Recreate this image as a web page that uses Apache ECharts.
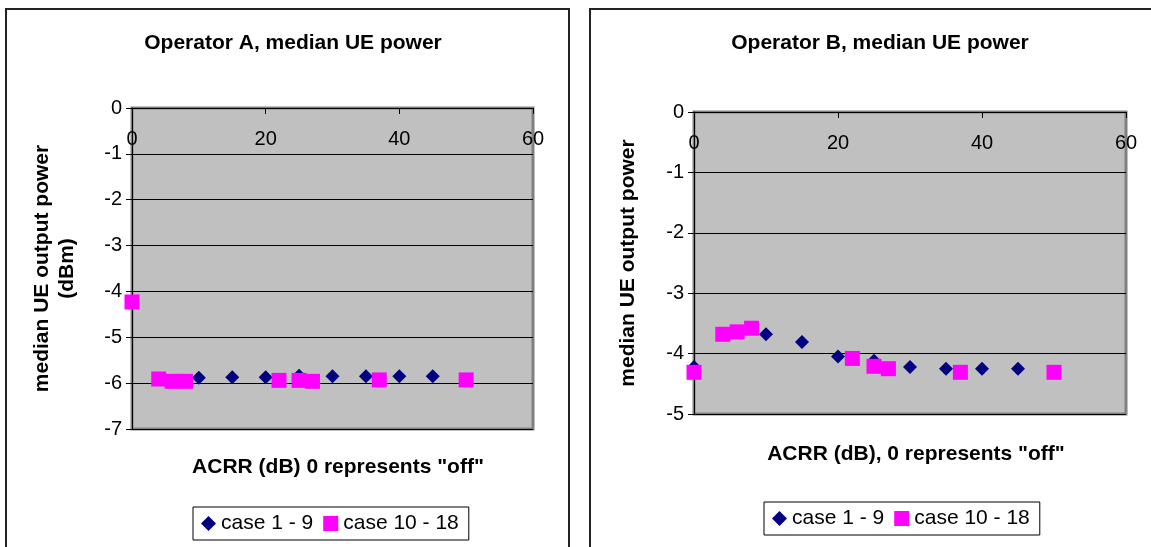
<!DOCTYPE html>
<html>
<head>
<meta charset="utf-8">
<script src="https://cdn.jsdelivr.net/npm/echarts@6/dist/echarts.min.js"></script>
<style>
  html, body { margin: 0; padding: 0; background: #fff; }
  #main { width: 1151px; height: 547px; }
</style>
</head>
<body>
<div id="main"></div>
<script>
// 数据：ACRR (dB) 与 median UE output power (dBm)
var seriesNames = ['case 1 - 9', 'case 10 - 18'];
var acrrCase1 = [0, 10, 15, 20, 25, 30, 35, 40, 45];
var acrrCase10 = [0, 4, 6, 8, 22, 25, 27, 37, 50];
var opA_case1 = [-4.23, -5.88, -5.87, -5.87, -5.84, -5.85, -5.85, -5.85, -5.85];
var opA_case10 = [-4.23, -5.91, -5.96, -5.96, -5.94, -5.94, -5.96, -5.93, -5.93];
var opB_case1 = [-4.22, -3.68, -3.81, -4.05, -4.12, -4.22, -4.25, -4.25, -4.25];
var opB_case10 = [-4.31, -3.68, -3.64, -3.58, -4.08, -4.21, -4.25, -4.31, -4.31];
var xTicks = [0, 20, 40, 60];

function pairs(xs, ys) {
    return xs.map(function (x, i) { return [x, ys[i]]; });
}

var FONT = '"Liberation Sans", Arial, sans-serif';
var myChart = echarts.init(document.getElementById('main'));

function xAx(gi) {
    return {
        type: 'value', gridIndex: gi, position: 'top',
        min: xTicks[0], max: xTicks[xTicks.length - 1], interval: 20,
        axisLine: { onZero: false, lineStyle: { color: '#000', width: 1 } },
        axisTick: { inside: true, length: 6, lineStyle: { color: '#000' } },
        axisLabel: { inside: true, margin: 21, color: '#000', fontSize: 20, fontFamily: FONT },
        splitLine: { show: false }
    };
}
function yAx(gi, min, name, gap) {
    return {
        type: 'value', gridIndex: gi, min: min, max: 0, interval: 1,
        name: name, nameLocation: 'middle', nameGap: gap, nameRotate: 90,
        nameTextStyle: { color: '#000', fontSize: 21, fontWeight: 'bold', fontFamily: FONT, lineHeight: 25 },
        axisLine: { show: true, lineStyle: { color: '#000', width: 1 } },
        axisTick: { show: true, length: 6, lineStyle: { color: '#000' } },
        axisLabel: { margin: 10, color: '#000', fontSize: 20, fontFamily: FONT },
        splitLine: { show: true, lineStyle: { color: '#000', width: 1 } }
    };
}
function legendAt(left, top) {
    return {
        left: left, top: top, orient: 'horizontal',
        data: [{ name: seriesNames[0], icon: 'diamond' }, { name: seriesNames[1], icon: 'rect' }],
        itemWidth: 15, itemHeight: 15, itemGap: 10,
        padding: [6, 10, 6, 8], borderColor: '#000', borderWidth: 1,
        textStyle: { color: '#000', fontSize: 21, fontFamily: FONT },
        selectedMode: false
    };
}
function ser(name, gi, sym, size, color, data) {
    return {
        name: name, type: 'scatter', xAxisIndex: gi, yAxisIndex: gi,
        symbol: sym, symbolSize: size,
        itemStyle: { color: color, opacity: 1 }, data: data
    };
}

var option = {
    backgroundColor: '#fff',
    animation: false,
    title: [
        { text: 'Operator A, median UE power', left: 288, top: 28, textAlign: 'center',
          textStyle: { fontSize: 21, fontWeight: 'bold', color: '#000', fontFamily: FONT } },
        { text: 'Operator B, median UE power', left: 875, top: 28, textAlign: 'center',
          textStyle: { fontSize: 21, fontWeight: 'bold', color: '#000', fontFamily: FONT } },
        // x轴名称
        { text: 'ACRR (dB) 0 represents "off"', left: 333, top: 452, textAlign: 'center',
          textStyle: { fontSize: 21, fontWeight: 'bold', color: '#000', fontFamily: FONT } },
        { text: 'ACRR (dB), 0 represents "off"', left: 911, top: 439, textAlign: 'center',
          textStyle: { fontSize: 21, fontWeight: 'bold', color: '#000', fontFamily: FONT } }
    ],
    legend: [legendAt(193, 507), legendAt(764, 502)],
    graphic: [
        // 外框
        { type: 'rect', shape: { x: 6, y: 9, width: 563, height: 600 }, style: { fill: null, stroke: '#222', lineWidth: 2 } },
        { type: 'rect', shape: { x: 590, y: 9, width: 600, height: 600 }, style: { fill: null, stroke: '#222', lineWidth: 2 } }
    ],
    grid: [
        { left: 132, top: 108, width: 401, height: 321, show: true, backgroundColor: '#c0c0c0', borderColor: '#808080', borderWidth: 3 },
        { left: 694, top: 112, width: 432, height: 302, show: true, backgroundColor: '#c0c0c0', borderColor: '#808080', borderWidth: 3 }
    ],
    xAxis: [xAx(0), xAx(1)],
    yAxis: [
        yAx(0, -7, 'median UE output power\n(dBm)', 52),
        yAx(1, -5, 'median UE output power', 53)
    ],
    series: [
        ser(seriesNames[0], 0, 'diamond', 14, '#000080', pairs(acrrCase1, opA_case1)),
        ser(seriesNames[1], 0, 'rect', 15, '#ff00ff', pairs(acrrCase10, opA_case10)),
        ser(seriesNames[0], 1, 'diamond', 14, '#000080', pairs(acrrCase1, opB_case1)),
        ser(seriesNames[1], 1, 'rect', 15, '#ff00ff', pairs(acrrCase10, opB_case10))
    ]
};

myChart.setOption(option);
</script>
</body>
</html>
